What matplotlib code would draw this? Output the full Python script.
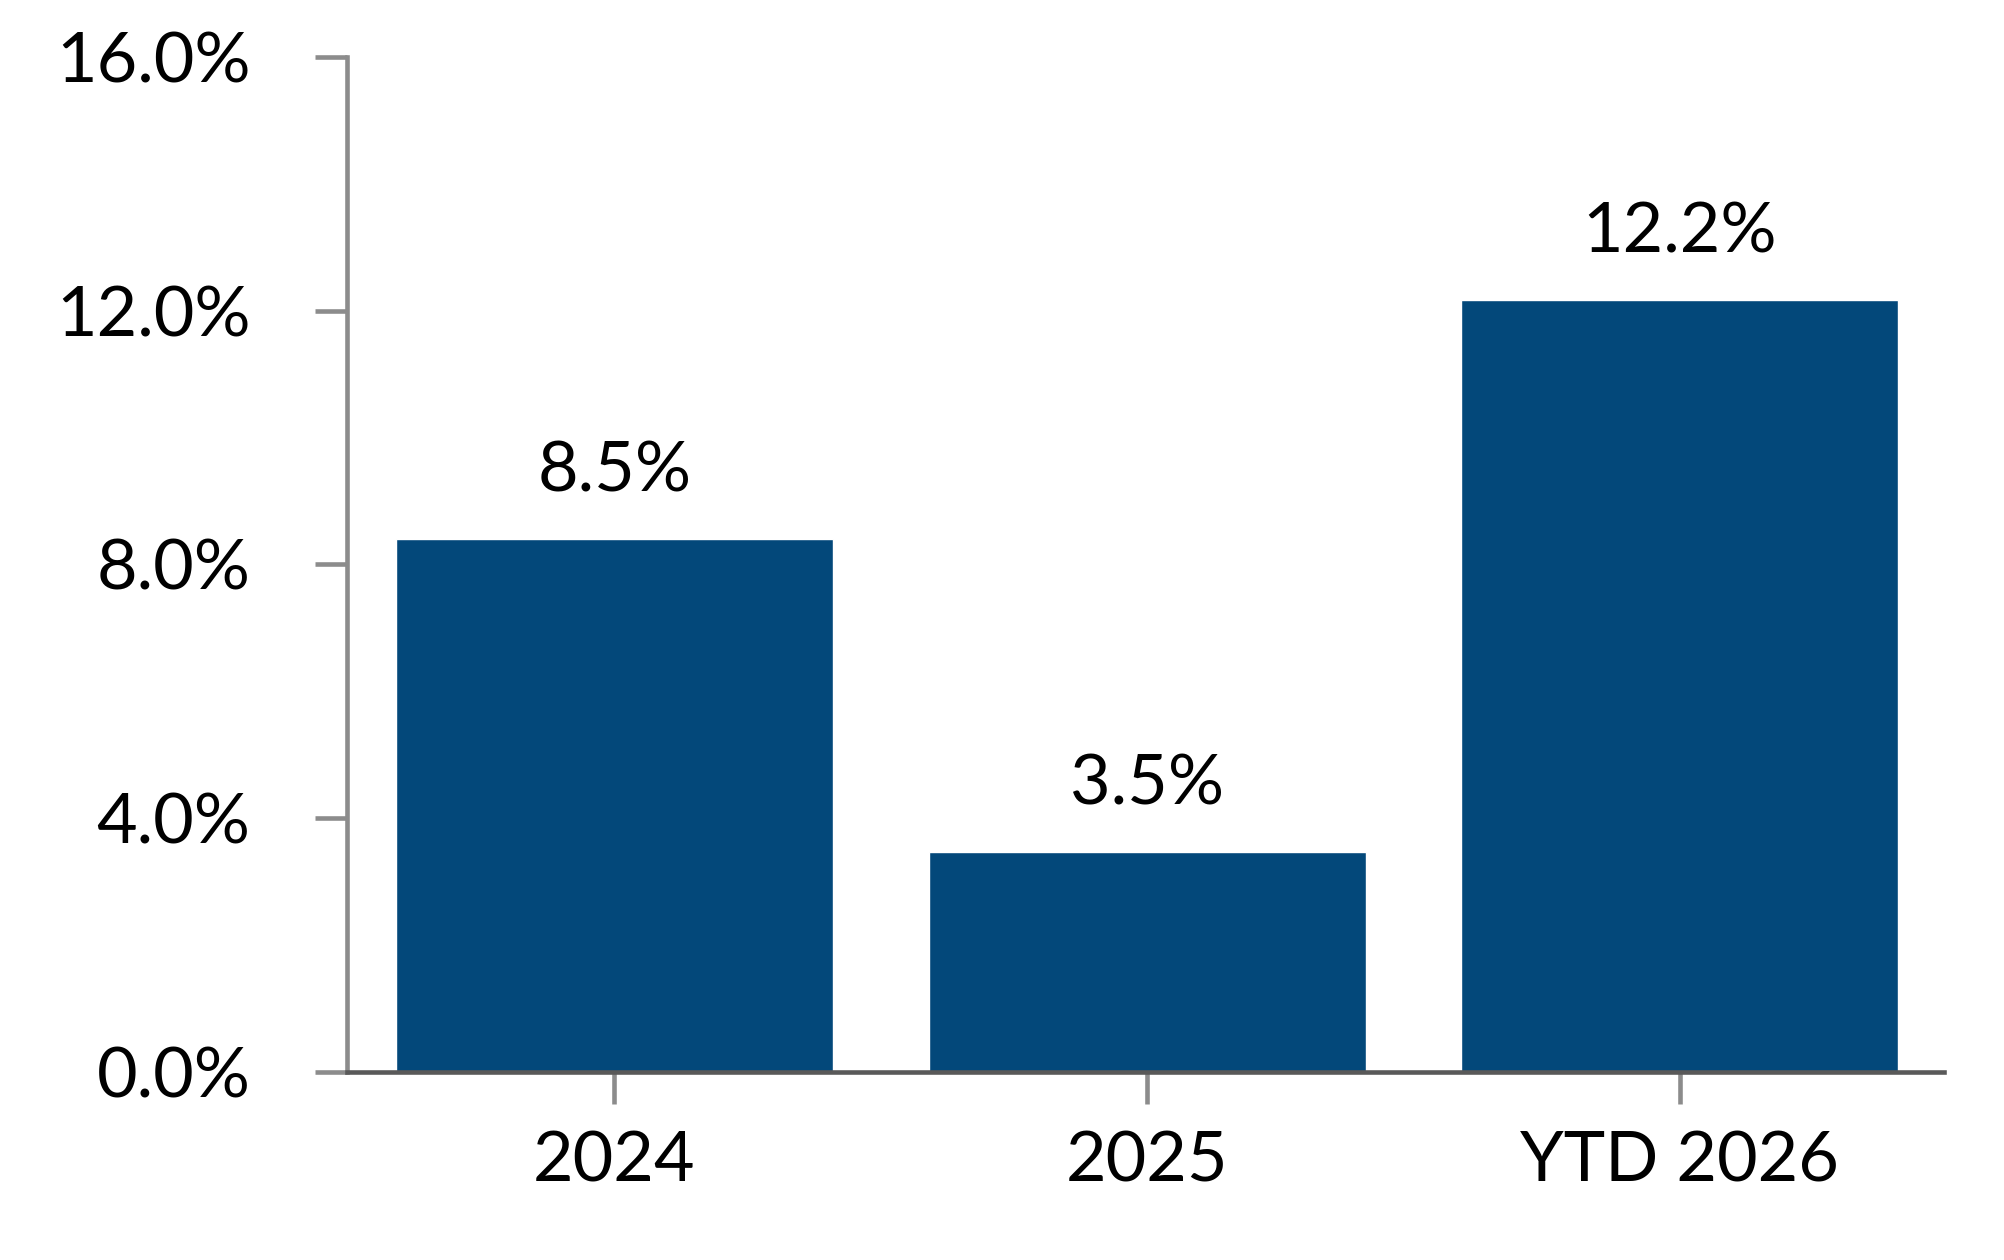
import matplotlib
matplotlib.use("Agg")
import matplotlib.pyplot as plt
from matplotlib.ticker import FuncFormatter

categories = ["2024", "2025", "YTD 2026"]
values = [8.4, 3.46, 12.17]
value_labels = ["8.5%", "3.5%", "12.2%"]
y_ticks = [0, 4, 8, 12, 16]

BAR = "#03487A"
DARK_AXIS = "#595959"
GRAY = "#8C8C8C"

plt.rcParams['font.family'] = ['Lato', 'DejaVu Sans']

W, H = 2004, 1260
fig = plt.figure(figsize=(W / 100, H / 100), dpi=100)
left_px, right_px = 347, 1944
bottom_px, top_px = 1071.5, 57.3
ax = fig.add_axes([left_px / W, (H - bottom_px) / H,
                   (right_px - left_px) / W, (bottom_px - top_px) / H])

x = list(range(len(categories)))
ax.bar(x, values, width=0.82, color=BAR, edgecolor="white", linewidth=1.0, zorder=2)

for xi, v, lab in zip(x, values, value_labels):
    ax.annotate(lab, (xi, v), xytext=(0, 34), textcoords="offset points",
                ha="center", va="baseline", fontsize=50.5, color="black")

ax.set_xlim(-0.502, 2.496)
ax.set_ylim(0, 16)
ax.set_xticks(x)
ax.set_xticklabels(categories)
ax.set_yticks(y_ticks)
ax.yaxis.set_major_formatter(FuncFormatter(lambda v, p: f"{v:.1f}%"))

for s in ["top", "right"]:
    ax.spines[s].set_visible(False)
ax.spines["bottom"].set_color(DARK_AXIS)
ax.spines["bottom"].set_linewidth(3.3)
ax.spines["left"].set_color(GRAY)
ax.spines["left"].set_linewidth(3.3)
ax.spines["bottom"].set_zorder(3)

ax.tick_params(axis="x", direction="out", length=22.7, width=3.3, color=GRAY,
               pad=20, labelsize=50.5, labelcolor="black")
ax.tick_params(axis="y", direction="out", length=23, width=3.3, color=GRAY,
               pad=46.5, labelsize=50.5, labelcolor="black")

fig.savefig("out.png", dpi=100, facecolor="white")
